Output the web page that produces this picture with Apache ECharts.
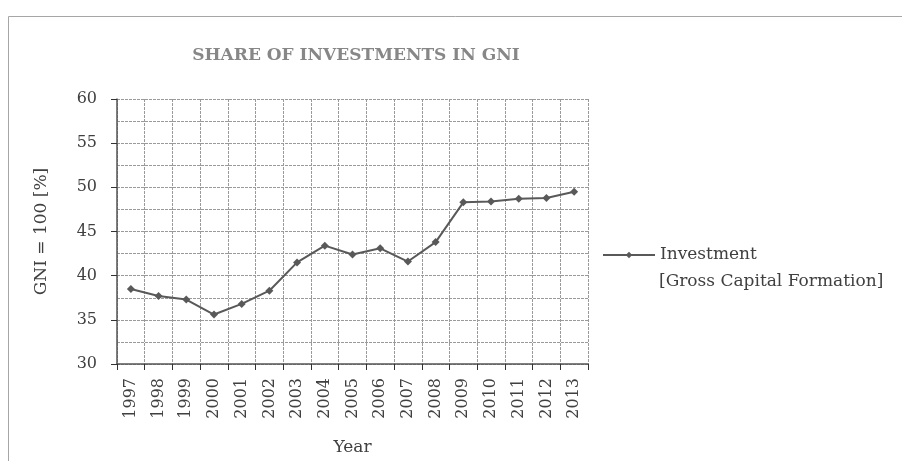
<!DOCTYPE html>
<html>
<head>
<meta charset="utf-8">
<script src="https://cdn.jsdelivr.net/npm/echarts@6/dist/echarts.min.js"></script>
<style>
    html, body { margin: 0; padding: 0; background: #fff; }
    #chart { width: 902px; height: 461px; }
</style>
</head>
<body>
<div id="chart"></div>
<script>
// data
var years = ['1997', '1998', '1999', '2000', '2001', '2002', '2003', '2004', '2005',
    '2006', '2007', '2008', '2009', '2010', '2011', '2012', '2013'];
var investment = [38.5, 37.7, 37.3, 35.6, 36.8, 38.3, 41.5, 43.4, 42.4,
    43.1, 41.6, 43.8, 48.3, 48.4, 48.7, 48.8, 49.5];
var seriesName = 'Investment';
var seriesNote = '[Gross Capital Formation]';

var myChart = echarts.init(document.getElementById('chart'));
var font = 'DejaVu Serif';
var gridLine = {color: '#9a9a9a', width: 1, type: [3, 1]};

option = {
    animation: false,
    backgroundColor: '#fff',
    title: {
        text: 'SHARE OF INVESTMENTS IN GNI',
        left: 351,
        textAlign: 'center',
        top: 42,
        textStyle: {
            fontFamily: font,
            fontSize: 17,
            fontWeight: 'bold',
            color: '#878787'
        }
    },
    graphic: [{
        type: 'rect',
        shape: {x: 8.5, y: 16.5, width: 1000, height: 1000},
        style: {fill: null, stroke: '#a6a6a6', lineWidth: 1},
        silent: true
    }, {
        // second line of the legend entry
        type: 'text',
        left: 659,
        top: 273,
        style: {
            text: seriesNote,
            font: '17px "DejaVu Serif"',
            fill: '#404040'
        },
        silent: true
    }],
    legend: {
        left: 597,
        top: 237,
        itemWidth: 52,
        itemHeight: 8,
        itemGap: 5,
        data: [seriesName],
        textStyle: {
            fontFamily: font,
            fontSize: 17,
            color: '#404040',
            lineHeight: 26
        }
    },
    grid: {
        left: 117,
        right: 314,
        top: 99,
        bottom: 96
    },
    xAxis: [{
        type: 'category',
        data: years,
        boundaryGap: true,
        name: 'Year',
        nameLocation: 'middle',
        nameGap: 75,
        nameTextStyle: {fontFamily: font, fontSize: 17, color: '#404040'},
        axisLine: {lineStyle: {color: '#555', width: 1.5}},
        axisTick: {show: true, length: 6, lineStyle: {color: '#333'}},
        axisLabel: {
            interval: 0,
            rotate: 90,
            margin: 14,
            fontFamily: font,
            fontSize: 16,
            color: '#404040'
        },
        splitLine: {show: true, interval: 0, lineStyle: gridLine}
    }],
    yAxis: [{
        type: 'value',
        min: 30,
        max: 60,
        interval: 5,
        name: 'GNI = 100 [%]',
        nameLocation: 'middle',
        nameGap: 67,
        nameTextStyle: {fontFamily: font, fontSize: 17, color: '#404040'},
        axisLine: {show: true, lineStyle: {color: '#555', width: 1.5}},
        axisTick: {show: true, length: 6, lineStyle: {color: '#333'}},
        axisLabel: {
            margin: 20,
            fontFamily: font,
            fontSize: 16,
            color: '#404040'
        },
        splitLine: {show: true, lineStyle: gridLine},
        minorTick: {show: false, splitNumber: 2},
        minorSplitLine: {show: true, lineStyle: gridLine}
    }],
    series: [{
        name: seriesName,
        type: 'line',
        data: investment,
        symbol: 'diamond',
        symbolSize: 8,
        showAllSymbol: true,
        lineStyle: {color: '#595959', width: 2},
        itemStyle: {color: '#595959'}
    }]
};
myChart.setOption(option);
</script>
</body>
</html>
